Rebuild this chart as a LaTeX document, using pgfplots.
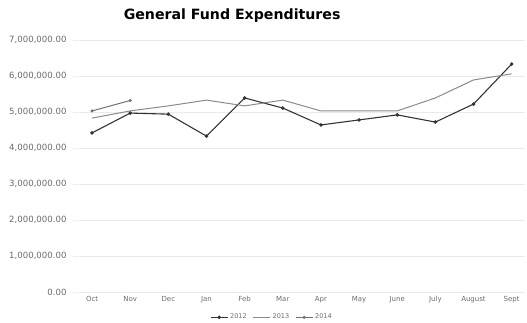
\documentclass[border=0pt]{standalone}
\usepackage{pgfplots}
\pgfplotsset{compat=1.18}
\usepackage{fontspec}
\setmainfont{DejaVu Sans}
\definecolor{gridc}{HTML}{EBEBEB}
\definecolor{labc}{HTML}{6A6A6A}
\definecolor{c12}{HTML}{333333}
\definecolor{c13}{HTML}{8A8A8A}
\definecolor{c14}{HTML}{707070}
\begin{document}
\begin{tikzpicture}
\useasboundingbox (-73bp,-31bp) rectangle (454bp,292bp);
\begin{axis}[
  at={(0,0)}, anchor=south west,
  scale only axis, width=452bp, height=252bp,
  xmin=-0.5, xmax=11.35, ymin=0, ymax=7000000,
  xtick={0,...,11},
  xticklabels={Oct,Nov,Dec,Jan,Feb,Mar,Apr,May,June,July,August,Sept},
  ytick={0,1000000,2000000,3000000,4000000,5000000,6000000,7000000},
  scaled y ticks=false,
  /pgf/number format/fixed,
  /pgf/number format/fixed zerofill,
  /pgf/number format/precision=2,
  /pgf/number format/1000 sep={,},
  /pgf/number format/assume math mode=true,
  ticklabel style={text=labc},
  yticklabel style={font=\fontsize{8.6}{9}\selectfont, xshift=-3bp},
  xticklabel style={font=\fontsize{7}{8}\selectfont, yshift=-1bp},
  axis line style={draw=none},
  major tick style={draw=none},
  ymajorgrids, grid style={gridc, line width=0.8pt},
  title={\textbf{General Fund Expenditures}},
  title style={font=\fontsize{14.2}{15}\selectfont, at={(0.352,1)}, anchor=south, yshift=8bp},
  legend style={at={(0.44,0)}, anchor=north, yshift=-18bp, draw=none, fill=none,
     font=\fontsize{6.5}{7}\selectfont, text=labc, legend columns=3,
     /tikz/every even column/.append style={column sep=4bp}},
]
\addplot[c12, line width=1.1pt, mark=*, mark size=1.2pt] coordinates {
 (0,4420000) (1,4970000) (2,4940000) (3,4330000) (4,5390000) (5,5110000)
 (6,4640000) (7,4780000) (8,4920000) (9,4720000) (10,5220000) (11,6330000)};
\addlegendentry{2012}
\addplot[c13, line width=1pt, mark=none] coordinates {
 (0,4830000) (1,5030000) (2,5170000) (3,5330000) (4,5170000) (5,5330000)
 (6,5030000) (7,5030000) (8,5030000) (9,5390000) (10,5890000) (11,6060000)};
\addlegendentry{2013}
\addplot[c14, line width=1pt, mark=*, mark size=1pt] coordinates {
 (0,5030000) (1,5320000)};
\addlegendentry{2014}
\end{axis}
\end{tikzpicture}
\end{document}
